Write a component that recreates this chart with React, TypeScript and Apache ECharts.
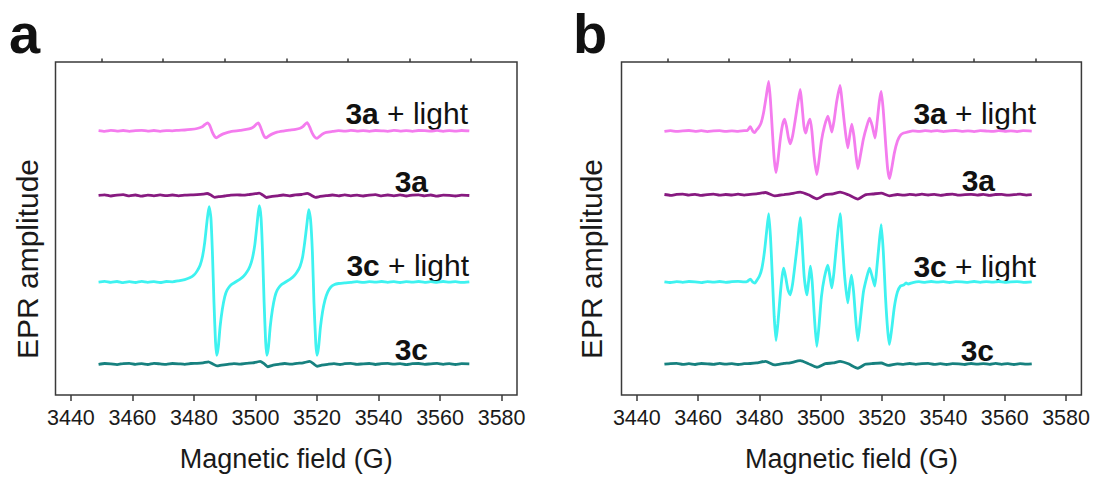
import React, { useEffect, useRef } from "react";
import * as echarts from "echarts";

const FONT = "'Liberation Sans', Arial, Helvetica, sans-serif";

// Axis ticks (G)
const FIELD_TICKS = [3440, 3460, 3480, 3500, 3520, 3540, 3560, 3580];
const FIELD_MINOR = [3450, 3470, 3490, 3510, 3530, 3550, 3570];
const FIELD_MIN = 3435;
const FIELD_MAX = 3585;

// Sample names (bold part, regular part)
const SAMPLE_BOLD = ["3a", "3a", "3c", "3c"];
const SAMPLE_REST = [" + light", "", " + light", ""];
const SAMPLE_COLORS = ["#f47cee", "#871a80", "#3ef2f0", "#17817f"];

// Vertical stacking offsets of each trace (arbitrary amplitude units)
const OFFSETS_A = [266.5, 201.3, 114, 31.3];
const OFFSETS_B = [266.3, 202, 114, 31.3];

// ---------- Panel a : [field (G), amplitude relative to trace baseline] ----------
const A_3A_LIGHT = [
  [3449, 0.3], [3451, -0.4], [3453, 0.5], [3455, -0.2], [3457, 0.4], [3459, -0.5], [3461, 0.2], [3463, 0.6],
  [3465, -0.3], [3467, 0.4], [3469, -0.4], [3471, 0.3], [3473, 0.1], [3475, 0.6], [3477, 0.9], [3479, 1.5],
  [3481, 2.4], [3482.5, 3.8], [3483.5, 6.2], [3484.4, 8], [3485.2, 5], [3486, -1.5], [3486.7, -5.5], [3487.3, -7],
  [3488.2, -5.2], [3489.5, -3], [3491, -1.4], [3493, -0.3], [3495, 0.6], [3497, 1.4], [3498.5, 2.5], [3499.5, 4.4],
  [3500.3, 6.8], [3500.9, 8], [3501.6, 4.2], [3502.3, -1.8], [3502.9, -5.8], [3503.4, -7], [3504.3, -5.1],
  [3505.5, -3], [3507, -1.3], [3509, -0.2], [3511, 0.7], [3513, 1.5], [3514.5, 2.6], [3515.5, 4.6], [3516.2, 7],
  [3516.8, 8.4], [3517.6, 4], [3518.4, -2], [3519.2, -6], [3520, -7.5], [3520.8, -5.6], [3521.8, -3.2],
  [3523, -1.6], [3525, -0.6], [3527, 0.2], [3529, -0.3], [3531, 0.5], [3533, -0.2], [3535, 0.3], [3537, -0.5],
  [3539, 0.4], [3541, 0.1], [3543, -0.4], [3545, 0.5], [3547, -0.2], [3549, 0.3], [3551, -0.5], [3553, 0.4],
  [3555, 0.2], [3557, -0.3], [3559, 0.5], [3561, -0.4], [3563, 0.3], [3565, -0.2], [3567, 0.4], [3569.5, -0.1],
];

const A_3A = [
  [3449, 0.2], [3451, 0.7], [3453, -0.5], [3455, 0.3], [3457, 0.8], [3459, -0.4], [3461, 0.5], [3463, -0.6],
  [3465, 0.4], [3467, -0.3], [3469, 0.6], [3471, -0.2], [3473, 0.5], [3475, -0.4], [3477, 0.3], [3479, 0.6],
  [3481, 0.8], [3483, 1.3], [3484.3, 2], [3485.5, 0.4], [3486.8, -1.8], [3488, -1.2], [3490, -0.5], [3492, 0.3],
  [3494, 0.7], [3496, 0.3], [3498, 1], [3500, 1.8], [3501.2, 2.3], [3502.4, 0.4], [3503.6, -2], [3505, -1.2],
  [3507, -0.4], [3509, 0.5], [3511, -0.3], [3513, 0.6], [3515, 1], [3516.8, 2.2], [3518, 0.5], [3519.5, -1.8],
  [3521, -1], [3523, -0.2], [3525, 0.5], [3527, -0.4], [3529, 0.6], [3531, -0.3], [3533, 0.4], [3535, -0.5],
  [3537, 0.3], [3539, 0.8], [3541, -0.4], [3543, 0.5], [3545, -0.3], [3547, 0.6], [3549, -0.5], [3551, 0.4],
  [3553, 0.7], [3555, -0.3], [3557, 0.5], [3559, -0.6], [3561, 0.4], [3563, 0.2], [3565, -0.5], [3567, 0.4],
  [3569.5, 0],
];

const A_3C_LIGHT = [
  [3449, 0], [3451, 0.6], [3453, -0.4], [3455, 0.5], [3457, -0.6], [3459, 0.3], [3461, -0.5], [3463, 0.6],
  [3465, -0.3], [3467, 0.4], [3469, -0.5], [3471, 0.5], [3473, 0.2], [3475, 1.2], [3477, 2.5], [3478.8, 4.5],
  [3480, 7], [3481, 11], [3482, 17], [3482.8, 26], [3483.5, 40], [3484.2, 60], [3484.9, 76], [3485.5, 65],
  [3486, 30], [3486.5, -20], [3487, -60], [3487.4, -74], [3487.9, -66], [3488.5, -45], [3489.2, -28],
  [3490, -15], [3490.8, -8], [3492, -3], [3493.5, 0], [3495, 3], [3496.2, 6], [3497.2, 10], [3498.2, 16],
  [3499, 24], [3499.8, 38], [3500.5, 58], [3501.2, 77], [3501.8, 65], [3502.3, 30], [3502.8, -20],
  [3503.3, -60], [3503.7, -74], [3504.2, -66], [3504.8, -45], [3505.5, -28], [3506.3, -15], [3507.1, -8],
  [3508.3, -3], [3509.8, 0], [3511.3, 3], [3512.5, 6], [3513.5, 10], [3514.5, 16], [3515.3, 25], [3516, 40],
  [3516.7, 58], [3517.3, 73], [3517.9, 63], [3518.5, 30], [3519, -20], [3519.6, -62], [3520, -74],
  [3520.5, -66], [3521.1, -46], [3521.8, -30], [3522.6, -18], [3523.5, -10], [3524.5, -5], [3525.7, -2.5],
  [3527, -1.5], [3529, -0.8], [3531, -0.3], [3533, 0.4], [3535, -0.4], [3537, 0.3], [3539, -0.2], [3541, 0.5],
  [3543, -0.3], [3545, 0.4], [3547, -0.5], [3549, 0.3], [3551, -0.2], [3553, 0.5], [3555, -0.4], [3557, 0.3],
  [3559, -0.3], [3561, 0.5], [3563, -0.2], [3565, 0.4], [3567, -0.4], [3569.5, 0.2],
];

const A_3C = [
  [3449, -0.3], [3451, 0.5], [3453, 0.2], [3455, -0.6], [3457, 0.4], [3459, 0.7], [3461, -0.3], [3463, 0.4],
  [3465, -0.5], [3467, 0.6], [3469, 0.1], [3471, -0.4], [3473, 0.5], [3475, 0.2], [3477, -0.3], [3479, 0.5],
  [3481, 0.7], [3483, 1.2], [3484.7, 2.2], [3486, 0.3], [3487.5, -2], [3489, -1.1], [3491, -0.3], [3493, 0.4],
  [3495, -0.2], [3497, 0.6], [3499, 1.1], [3500.5, 2], [3501.5, 2.7], [3502.8, 0.3], [3504, -2.8],
  [3505.5, -1.3], [3507.5, -0.3], [3509.5, 0.5], [3511.5, -0.2], [3513.5, 0.6], [3515.5, 1.2], [3517.6, 2.6],
  [3518.8, 0.4], [3520, -2.3], [3521.5, -1.2], [3523.5, -0.3], [3525.5, 0.4], [3527.5, -0.5], [3529, 0.3],
  [3531, 0.6], [3533, -0.4], [3535, 0.2], [3537, 0.5], [3539, -0.5], [3541, 0.3], [3543, 0.6], [3545, -0.2],
  [3547, 0.4], [3549, -0.6], [3551, 0.3], [3553, 0.5], [3555, -0.4], [3557, 0.2], [3559, 0.6], [3561, -0.3],
  [3563, 0.4], [3565, -0.5], [3567, 0.3], [3569.5, 0.1],
];

// ---------- Panel b ----------
const B_3A_LIGHT = [
  [3449, -0.2], [3451, 0.5], [3453, -0.4], [3455, 0.3], [3457, 0.6], [3459, -0.3], [3461, 0.4], [3463, -0.5],
  [3465, 0.2], [3467, 0.5], [3469, -0.4], [3471, 0.3], [3473, -0.2], [3475, 0.4], [3476, 0.5], [3477, 4.5],
  [3477.8, 0], [3478.4, -1.5], [3479, 1], [3479.7, 3.5], [3480.5, 8], [3481.3, 18], [3482.2, 35], [3483, 50],
  [3483.6, 30], [3484.2, 0], [3484.8, -28], [3485.4, -42], [3486, -30], [3486.8, -8], [3487.5, 6],
  [3488.2, 12], [3488.8, 5], [3489.4, -6], [3490, -13], [3490.8, -5], [3491.6, 10], [3492.5, 28],
  [3493.3, 42], [3493.9, 25], [3494.5, 5], [3495.1, -2], [3495.8, 7], [3496.5, 12], [3497.1, 0],
  [3497.8, -25], [3498.7, -44], [3499.4, -30], [3500.2, -10], [3501.2, 5], [3502.3, 15], [3503, 7],
  [3503.6, -1], [3504.3, 10], [3505.2, 30], [3506.3, 46], [3507, 28], [3507.8, 5], [3508.8, -17],
  [3509.4, -5], [3510.1, 7], [3510.8, -5], [3511.5, -25], [3512.1, -38], [3512.9, -25], [3513.9, -8],
  [3515, 5], [3515.9, 13], [3516.8, 5], [3517.7, -7], [3518.4, 10], [3519.1, 30], [3519.7, 40], [3520.4, 20],
  [3521.2, -15], [3521.8, -38], [3522.4, -48], [3523.1, -38], [3524, -22], [3525, -10], [3526, -4],
  [3527, -2], [3528.5, -0.8], [3530, 0.3], [3532, -0.4], [3534, 0.5], [3536, -0.2], [3538, 0.4], [3540, -0.5],
  [3542, 0.3], [3544, 0.6], [3546, -0.3], [3548, 0.2], [3550, -0.5], [3552, 0.4], [3554, 0.1], [3556, -0.4],
  [3558, 0.5], [3560, -0.2], [3562, 0.3], [3564, -0.5], [3566, 0.4], [3568.8, 0],
];

const B_3A = [
  [3449, 0.3], [3451, -0.5], [3453, 0.4], [3455, 0.7], [3457, -0.3], [3459, 0.5], [3461, -0.6], [3463, 0.2],
  [3465, 0.6], [3467, -0.4], [3469, 0.3], [3471, -0.2], [3473, 0.6], [3475, -0.3], [3477, 0.4], [3479, 0.9],
  [3482, 2.3], [3485, -1], [3488, 0.2], [3490, 1], [3493.3, 2.7], [3496, 0], [3498.7, -4], [3501.5, 0.2],
  [3504, 1], [3506.3, 2.7], [3509, 0], [3512.1, -4.3], [3514.5, 0], [3517, 0.8], [3519.7, 1.7], [3522.4, -1],
  [3525, 0.3], [3527, -0.4], [3529, 0.5], [3531, -0.3], [3533, 0.6], [3535, -0.2], [3537, 0.4], [3539, -0.5],
  [3541, 0.3], [3543, 0.7], [3545, -0.4], [3547, 0.2], [3549, 0.5], [3551, -0.3], [3553, 0.4], [3555, -0.6],
  [3557, 0.3], [3559, 0.5], [3561, -0.4], [3563, 0.2], [3565, 0.6], [3567, -0.3], [3568.8, 0.1],
];

const B_3C_LIGHT = [
  [3449, 0.2], [3451, -0.5], [3453, 0.4], [3455, -0.3], [3457, 0.5], [3459, 0.2], [3461, -0.6], [3463, 0.4],
  [3465, -0.2], [3467, 0.5], [3469, -0.4], [3471, 0.3], [3473, 0.6], [3475, 0.1], [3476, 0.5], [3477, 3],
  [3477.8, 0], [3478.5, -1], [3479.2, 2], [3480, 6], [3480.8, 14], [3481.6, 30], [3482.3, 50], [3483, 69],
  [3483.6, 45], [3484.2, 5], [3484.8, -35], [3485.4, -59], [3486, -42], [3486.8, -12], [3487.4, 6],
  [3487.9, 14], [3488.6, 4], [3489.3, -8], [3490, -13], [3490.8, -2], [3491.6, 18], [3492.5, 42],
  [3493.3, 65], [3493.9, 40], [3494.6, 5], [3495.5, -13], [3496, 0], [3496.6, 16], [3497.2, 0],
  [3497.9, -35], [3498.7, -65], [3499.4, -45], [3500.2, -15], [3501.2, 5], [3502.3, 17], [3503, 5],
  [3503.6, -6], [3504.3, 10], [3505.2, 40], [3506.3, 69], [3507, 40], [3507.8, 5], [3508.8, -21],
  [3509.4, -5], [3510, 7], [3510.7, -10], [3511.4, -38], [3512.1, -59], [3512.9, -38], [3513.9, -10],
  [3515, 5], [3515.9, 14], [3516.8, 5], [3517.6, -4], [3518.3, 15], [3519, 38], [3519.7, 58], [3520.4, 30],
  [3521.1, -15], [3521.8, -48], [3522.4, -63], [3523.1, -48], [3524, -25], [3525, -10], [3526, -4],
  [3527, -3], [3527.8, -1], [3528.5, -2], [3530, -0.5], [3532, 0.3], [3534, -0.4], [3536, 0.5], [3538, -0.2],
  [3540, 0.4], [3542, -0.5], [3544, 0.3], [3546, 0.1], [3548, -0.4], [3550, 0.5], [3552, -0.3], [3554, 0.4],
  [3556, -0.2], [3558, 0.5], [3560, -0.4], [3562, 0.2], [3564, 0.4], [3566, -0.3], [3568.8, 0.2],
];

const B_3C = [
  [3449, -0.2], [3451, 0.4], [3453, 0.6], [3455, -0.4], [3457, 0.3], [3459, -0.5], [3461, 0.5], [3463, 0.2],
  [3465, -0.4], [3467, 0.6], [3469, -0.2], [3471, 0.4], [3473, -0.5], [3475, 0.3], [3477, 0.5], [3479, 1],
  [3482, 2.7], [3485, -1], [3488, 0.5], [3490, 1.2], [3493.3, 3.3], [3496, 0.2], [3498.7, -3.3],
  [3501.5, 0.3], [3504, 1], [3506.3, 2.7], [3509, 0.2], [3512.1, -4.3], [3514.5, -0.3], [3517, 0.5],
  [3519.7, 1], [3522, -1.5], [3525, 0.2], [3527, -0.4], [3529, 0.5], [3531, -0.3], [3533, 0.4], [3535, 0.6],
  [3537, -0.4], [3539, 0.3], [3541, -0.5], [3543, 0.4], [3545, 0.2], [3547, -0.5], [3549, 0.5], [3551, -0.2],
  [3553, 0.4], [3555, -0.4], [3557, 0.6], [3559, -0.3], [3561, 0.3], [3563, -0.5], [3565, 0.4], [3567, -0.2],
  [3568.8, 0.2],
];

const PANEL_A = [A_3A_LIGHT, A_3A, A_3C_LIGHT, A_3C];
const PANEL_B = [B_3A_LIGHT, B_3A, B_3C_LIGHT, B_3C];

const X_TITLE = "Magnetic field (G)";
const Y_TITLE = "EPR amplitude";
const PANEL_LETTERS = ["a", "b"];

// layout (pixels)
const GRIDS = [
  { left: 55.5, top: 62, width: 461.5, height: 336 },
  { left: 621.5, top: 62, width: 461.5, height: 336 },
];
const LABEL_POS = [
  [[468, 113], [428, 181], [469, 265], [428, 349]],
  [[1036, 113], [995, 180], [1036, 266], [994, 350]],
];
const Y_TITLE_X = [27, 591];
const LETTER_POS = [[9, 33], [573, 33]];

export default function App() {
  const ref = useRef<HTMLDivElement>(null);

  useEffect(() => {
    if (!ref.current) return;
    const chart = echarts.init(ref.current, null, { renderer: "svg" });

    const panels = [
      { traces: PANEL_A, offsets: OFFSETS_A },
      { traces: PANEL_B, offsets: OFFSETS_B },
    ];

    const xAxes: any[] = [];
    const yAxes: any[] = [];
    const series: any[] = [];
    const graphic: any[] = [];

    panels.forEach((p, pi) => {
      xAxes.push({
        type: "value",
        gridIndex: pi,
        min: FIELD_MIN,
        max: FIELD_MAX,
        axisLine: { show: false },
        splitLine: { show: false },
        axisTick: {
          show: true,
          customValues: FIELD_TICKS,
          length: 6,
          lineStyle: { color: "#3a3a3a", width: 1.5 },
        },
        axisLabel: {
          show: true,
          customValues: FIELD_TICKS,
          formatter: (v: number) => String(v),
          margin: 11.5,
          fontSize: 21.5,
          fontFamily: FONT,
          color: "#1a1a1a",
        },
        name: X_TITLE,
        nameLocation: "middle",
        nameGap: 50,
        nameTextStyle: { fontSize: 27, fontFamily: FONT, color: "#1a1a1a" },
      });
      xAxes.push({
        type: "value",
        gridIndex: pi,
        min: FIELD_MIN,
        max: FIELD_MAX,
        axisLine: { show: false },
        splitLine: { show: false },
        axisLabel: { show: false },
        axisTick: {
          show: true,
          customValues: FIELD_MINOR,
          length: 3.5,
          lineStyle: { color: "#3a3a3a", width: 1.5 },
        },
      });
      yAxes.push({
        type: "value",
        gridIndex: pi,
        min: 0,
        max: 336,
        axisLine: { show: false },
        axisTick: { show: false },
        axisLabel: { show: false },
        splitLine: { show: false },
      });

      p.traces.forEach((pts, ti) => {
        series.push({
          type: "line",
          name: SAMPLE_BOLD[ti] + SAMPLE_REST[ti],
          xAxisIndex: pi * 2,
          yAxisIndex: pi,
          data: pts.map(([g, a]) => [g, a + p.offsets[ti]]),
          showSymbol: false,
          symbol: "none",
          smooth: 0.2,
          silent: true,
          lineStyle: { color: SAMPLE_COLORS[ti], width: 2.8 },
        });
        const [lx, ly] = LABEL_POS[pi][ti];
        graphic.push({
          type: "text",
          x: lx,
          y: ly,
          silent: true,
          style: {
            text: "{b|" + SAMPLE_BOLD[ti] + "}" + SAMPLE_REST[ti],
            align: "right",
            verticalAlign: "middle",
            fontSize: 30,
            fontFamily: FONT,
            fill: "#111",
            rich: {
              b: { fontWeight: "bold", fontSize: 30, fontFamily: FONT, fill: "#111" },
            },
          },
        });
      });

      graphic.push({
        type: "text",
        x: Y_TITLE_X[pi],
        y: 259,
        rotation: Math.PI / 2,
        silent: true,
        style: {
          text: Y_TITLE,
          align: "center",
          verticalAlign: "middle",
          fontSize: 30,
          fontFamily: FONT,
          fill: "#1a1a1a",
        },
      });
      graphic.push({
        type: "text",
        x: LETTER_POS[pi][0],
        y: LETTER_POS[pi][1],
        silent: true,
        style: {
          text: PANEL_LETTERS[pi],
          align: "left",
          verticalAlign: "middle",
          fontSize: 56,
          fontWeight: "bold",
          fontFamily: FONT,
          fill: "#111",
        },
      });
    });

    chart.setOption({
      animation: false,
      backgroundColor: "#ffffff",
      grid: GRIDS.map((g) => ({
        ...g,
        show: true,
        borderColor: "#3a3a3a",
        borderWidth: 1.5,
        backgroundColor: "transparent",
        containLabel: false,
      })),
      xAxis: xAxes,
      yAxis: yAxes,
      series,
      graphic,
    });

    return () => chart.dispose();
  }, []);

  return (
    <div
      ref={ref}
      style={{ position: "absolute", left: 0, top: 0, width: 1093, height: 477 }}
    />
  );
}
